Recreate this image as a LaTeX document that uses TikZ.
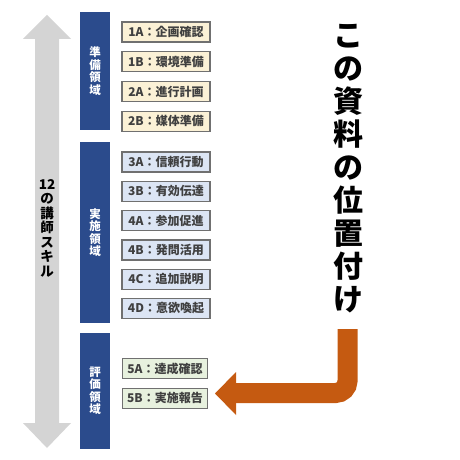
\documentclass[tikz,border=0pt]{standalone}
\usepackage{fontspec}
\setmainfont{Noto Sans CJK JP}
\usetikzlibrary{positioning}
\definecolor{barblue}{HTML}{2B4B8C}
\definecolor{arrowgray}{HTML}{D4D4D4}
\definecolor{boxgray}{HTML}{707070}
\definecolor{fillprep}{HTML}{FBF1D6}
\definecolor{fillrun}{HTML}{DCE5F4}
\definecolor{filleval}{HTML}{E7F1DE}
\definecolor{markorange}{HTML}{C55A11}
\tikzset{
  areabar/.style={fill=barblue, text=white, minimum width=30pt, inner sep=0pt,
    align=center, font=\fontsize{11.5}{12.5}\selectfont\bfseries},
  skillbox/.style={draw=boxgray, line width=1.3pt, minimum width=88pt,
    minimum height=20pt, inner sep=0pt, text=black!75,
    font=\fontsize{12}{12}\selectfont\bfseries},
}
\begin{document}
\begin{tikzpicture}[x=1pt,y=-1pt]
\useasboundingbox (0,0) rectangle (460,460);
% gray double arrow
\fill[arrowgray] (47,15)--(71,39)--(59,39)--(59,423)--(71,423)--(47,448)
  --(23,423)--(35,423)--(35,39)--(23,39)--cycle;
\node[align=center, font=\fontsize{13.5}{14.5}\selectfont\bfseries] (skills) at (47,228)
  {12\\の\\講\\師\\ス\\キ\\ル};
% area bars
\node[areabar, minimum height=118pt] (prep) at (95,71) {準\\備\\領\\域};
\node[areabar, minimum height=181pt] (run) at (95,232.5) {実\\施\\領\\域};
\node[areabar, minimum height=116pt] (eval) at (95,391) {評\\価\\領\\域};
% preparation
\node[skillbox, fill=fillprep] (s1A) at (166,32) {1A：企画確認};
\node[skillbox, fill=fillprep, below=8.5pt of s1A] (s1B) {1B：環境準備};
\node[skillbox, fill=fillprep, below=8.5pt of s1B] (s2A) {2A：進行計画};
\node[skillbox, fill=fillprep, below=8.5pt of s2A] (s2B) {2B：媒体準備};
% delivery
\node[skillbox, fill=fillrun] (s3A) at (166,162) {3A：信頼行動};
\node[skillbox, fill=fillrun, below=8pt of s3A] (s3B) {3B：有効伝達};
\node[skillbox, fill=fillrun, below=8pt of s3B] (s4A) {4A：参加促進};
\node[skillbox, fill=fillrun, below=8pt of s4A] (s4B) {4B：発問活用};
\node[skillbox, fill=fillrun, below=8pt of s4B] (s4C) {4C：追加説明};
\node[skillbox, fill=fillrun, below=8pt of s4C] (s4D) {4D：意欲喚起};
% evaluation
\node[skillbox, fill=filleval, minimum width=85pt] (s5A) at (165,368.5) {5A：達成確認};
\node[skillbox, fill=filleval, minimum width=85pt, below=8.5pt of s5A] (s5B) {5B：実施報告};
% title and pointer
\node[align=center, font=\fontsize{30}{33}\selectfont\bfseries] (title) at (348,168.5)
  {こ\\の\\資\\料\\の\\位\\置\\付\\け};
\coordinate (ptop) at (347.5,329);
\coordinate (pbase) at (236,393);
\draw[markorange, line width=20pt, rounded corners=12pt] (ptop)--(347.5,393)--([xshift=-1pt]pbase);
\fill[markorange] (236,372)--(215,393.5)--(236,415)--cycle;
\end{tikzpicture}
\end{document}
